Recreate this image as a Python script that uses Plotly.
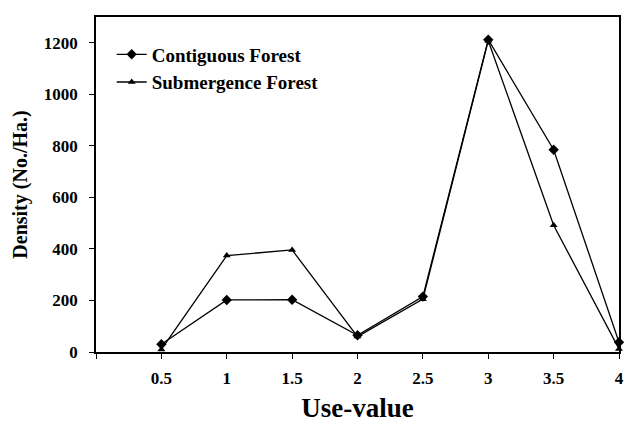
import plotly.graph_objects as go

use_value = [0.5, 1, 1.5, 2, 2.5, 3, 3.5, 4]
contiguous = [30, 202, 203, 65, 215, 1212, 785, 38]
submergence = [10, 374, 396, 60, 205, 1208, 492, 12]
y_ticks = [0, 200, 400, 600, 800, 1000, 1200]
x_ticks = [0, 0.5, 1, 1.5, 2, 2.5, 3, 3.5, 4]
x_tick_text = ["", "0.5", "1", "1.5", "2", "2.5", "3", "3.5", "4"]

FONT = "Liberation Serif, Times New Roman, serif"

fig = go.Figure()
fig.add_trace(go.Scatter(
    x=use_value, y=contiguous, mode="lines+markers", name="Contiguous Forest",
    line=dict(color="black", width=1.3),
    marker=dict(symbol="diamond", size=8, color="black"),
    cliponaxis=False,
))
fig.add_trace(go.Scatter(
    x=use_value, y=submergence, mode="lines+markers", name="Submergence Forest",
    line=dict(color="black", width=1.3),
    marker=dict(symbol="triangle-up", size=7, color="black"),
    cliponaxis=False,
))

fig.update_layout(
    width=628, height=423,
    margin=dict(l=96, r=4, t=17, b=71),
    paper_bgcolor="white", plot_bgcolor="white",
    font=dict(family=FONT, color="black"),
    showlegend=True,
    legend=dict(
        x=0.03, y=0.945, xanchor="left", yanchor="top",
        bgcolor="rgba(0,0,0,0)",
        font=dict(family=FONT, size=19, color="black", weight="bold"),
        itemwidth=30, tracegroupgap=0,
    ),
    xaxis=dict(
        range=[0, 4], tickmode="array", tickvals=x_ticks, ticktext=x_tick_text,
        ticks="outside", ticklen=5, tickcolor="black",
        showline=True, linecolor="black", linewidth=1.5, mirror=True,
        showgrid=False, zeroline=False,
        tickfont=dict(family=FONT, size=17, color="black", weight="bold"),
        ticklabelstandoff=5,
        title=dict(text="Use-value", font=dict(family=FONT, size=27, color="black", weight="bold"), standoff=12),
    ),
    yaxis=dict(
        range=[0, 1300], tickmode="array", tickvals=y_ticks,
        ticks="outside", ticklen=5, tickcolor="black",
        showline=True, linecolor="black", linewidth=1.5, mirror=True,
        showgrid=False, zeroline=False,
        tickfont=dict(family=FONT, size=17, color="black", weight="bold"),
        ticklabelstandoff=8,
        title=dict(text="Density (No./Ha.)", font=dict(family=FONT, size=20, color="black", weight="bold"), standoff=11),
    ),
)

fig.write_html(
    "out.html",
    config={"displayModeBar": False},
    post_script="document.body.style.margin='0';document.body.style.overflow='hidden';",
)
